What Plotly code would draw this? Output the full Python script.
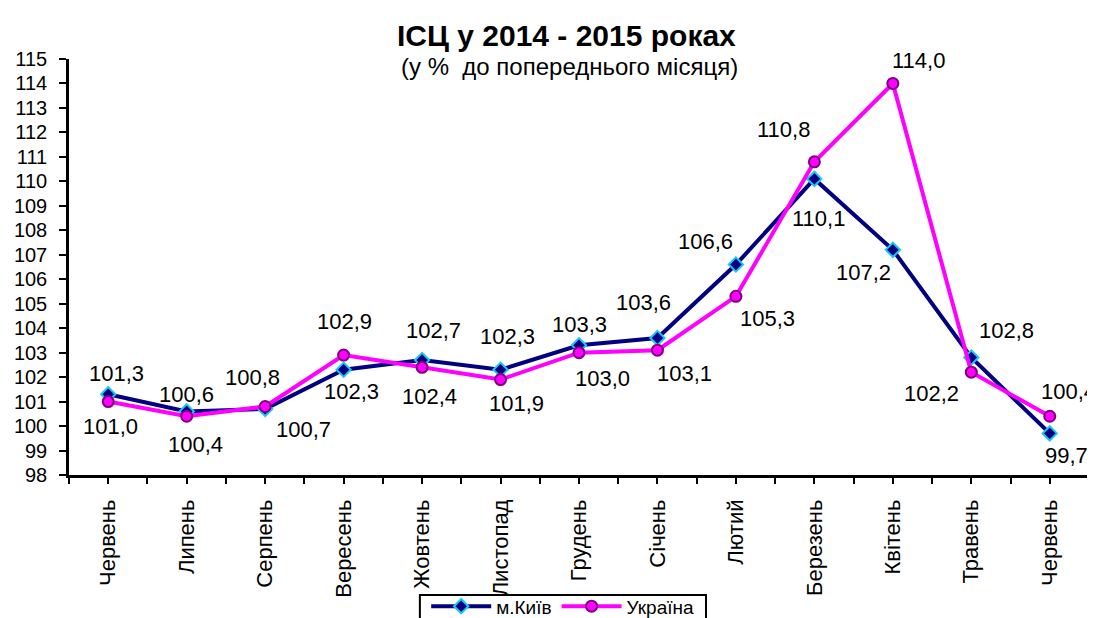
import plotly.graph_objects as go

months = ["Червень", "Липень", "Серпень", "Вересень", "Жовтень", "Листопад",
          "Грудень", "Січень", "Лютий", "Березень", "Квітень", "Травень", "Червень"]
kyiv = [101.3, 100.6, 100.7, 102.3, 102.7, 102.3, 103.3, 103.6, 106.6, 110.1, 107.2, 102.8, 99.7]
ukraine = [101.0, 100.4, 100.8, 102.9, 102.4, 101.9, 103.0, 103.1, 105.3, 110.8, 114.0, 102.2, 100.4]
y_ticks = list(range(98, 116))

# label offsets in pixels (dx right, dy down), style only
kyiv_off = [(8, -21), (0, -17), (38, 21), (8, 22), (11, -29), (7, -33), (0, -21),
            (-14, -35), (-30, -23), (4, 40), (-29, 23), (35, -27), (17, 22)]
ukr_off = [(2, 25), (9, 28), (-13, -29), (1, -34), (7, 29), (16, 24), (23, 26),
           (27, 23), (32, 22), (-31, -32), (26, -23), (-40, 21), (19, -25)]

FONT = "Arial, Liberation Sans, sans-serif"
xs = list(range(len(months)))

fig = go.Figure()
fig.add_trace(go.Scatter(
    x=xs, y=kyiv, name="м.Київ", mode="lines+markers",
    line=dict(color="#000080", width=4),
    marker=dict(symbol="diamond", size=11, color="#000080",
                line=dict(color="#19C8F5", width=2)),
))
fig.add_trace(go.Scatter(
    x=xs, y=ukraine, name="Україна", mode="lines+markers",
    line=dict(color="#FF00FF", width=4),
    marker=dict(symbol="circle", size=11, color="#FF00FF",
                line=dict(color="#800080", width=2)),
))

def fmt(v):
    return f"{v:.1f}".replace(".", ",")

ann = []
for series, offs in ((kyiv, kyiv_off), (ukraine, ukr_off)):
    for i, v in enumerate(series):
        dx, dy = offs[i]
        ann.append(dict(x=xs[i], y=v, xref="x", yref="y", text=fmt(v),
                        showarrow=False, xshift=dx, yshift=-dy,
                        font=dict(family=FONT, size=22, color="black")))

ann.append(dict(x=0.488, y=1.057, xref="paper", yref="paper",
                text="<b>ІСЦ у 2014 - 2015 роках</b>", showarrow=False,
                xanchor="center", yanchor="middle",
                font=dict(family=FONT, size=30, color="black")))
ann.append(dict(x=0.491, y=0.983, xref="paper", yref="paper",
                text="(у %\u00a0 до попереднього місяця)", showarrow=False,
                xanchor="center", yanchor="middle",
                font=dict(family=FONT, size=24, color="black")))

fig.update_layout(
    width=1095, height=618,
    margin=dict(l=61, r=14, t=51, b=151, autoexpand=False),
    paper_bgcolor="white", plot_bgcolor="white",
    font=dict(family=FONT, color="black"),
    annotations=ann,
    showlegend=True,
    legend=dict(orientation="h", x=0.484, y=-0.27, xanchor="center", yanchor="top",
                borderwidth=0, bgcolor="rgba(0,0,0,0)",
                font=dict(family=FONT, size=19, color="black"),
                itemwidth=60),
    shapes=[dict(type="rect", xref="paper", yref="paper",
                 x0=0.344, x1=0.6245, y0=-0.2885, y1=-0.40,
                 line=dict(color="black", width=2), fillcolor="rgba(0,0,0,0)",
                 layer="below")],
)
fig.update_xaxes(
    range=[-0.5, 12.5], tickmode="array", tickvals=xs, ticktext=months,
    tickangle=-90, ticks="outside", ticklen=6, tickwidth=2, tickcolor="black",
    showline=True, linecolor="black", linewidth=2.5, showgrid=False, zeroline=False,
    tickfont=dict(family=FONT, size=22, color="black"), ticklabelstandoff=7,
    automargin=False,
    minor=dict(tick0=-0.5, dtick=1, ticks="outside", ticklen=6, tickwidth=2,
               tickcolor="black", showgrid=False),
)
fig.update_yaxes(
    range=[98, 115], tickmode="array", tickvals=y_ticks, ticktext=[str(t) for t in y_ticks],
    ticks="outside", ticklen=7, tickwidth=2, tickcolor="black",
    showline=True, linecolor="black", linewidth=2.5, showgrid=False, zeroline=False,
    tickfont=dict(family=FONT, size=20, color="black"), ticklabelstandoff=8,
    automargin=False,
)

fig.write_html("out.html")
